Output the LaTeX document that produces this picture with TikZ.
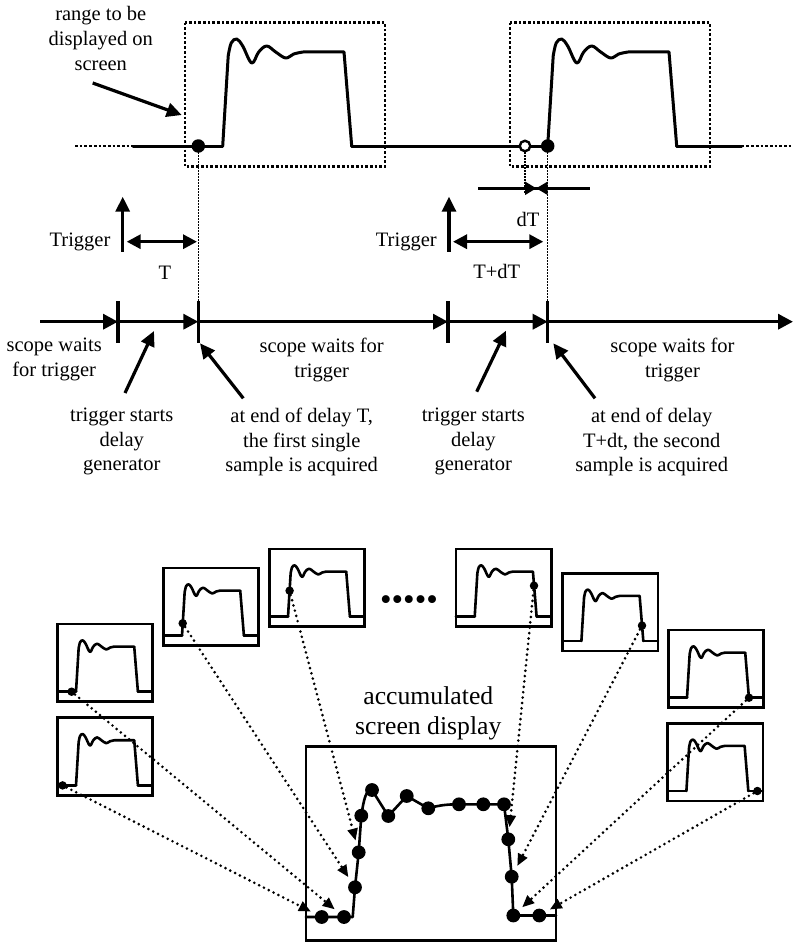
\documentclass[tikz,border=0pt]{standalone}
\usepackage{fontspec}
\setmainfont{Liberation Serif}
\usetikzlibrary{arrows.meta,calc}
\newcommand\pulsepath{(0,0) -- (5.5,-90) -- plot[smooth,tension=0.6] coordinates {(5.5,-90) (8.5,-103) (14,-107) (20,-100) (29,-83) (36,-94) (44,-100) (53,-94) (63,-88) (71,-92) (80.3,-94)} -- (121.3,-94) -- (129,0)}
\begin{document}
\begin{tikzpicture}[x=1pt,y=-1pt,
  wave/.style={line width=3pt,line join=round,line cap=round},
  swave/.style={line width=2.6pt,line join=round,line cap=round},
  sqdots/.style={line width=2.7pt,dash pattern=on 2.7pt off 2pt},
  thindots/.style={line width=1.5pt,dash pattern=on 1.5pt off 1.5pt},
  conn/.style={line width=2.9pt,line cap=round,dash pattern=on 0pt off 5.4pt,-{Triangle[length=12pt,width=10pt]},shorten >=5pt},
  lbl/.style={font=\fontsize{20.5}{24.7}\selectfont,align=center,inner sep=0pt,anchor=north},
  arr/.style={line width=3.2pt,-{Triangle[length=15pt,width=14pt]}},
  dbl/.style={line width=3.2pt,{Triangle[length=14pt,width=14pt]}-{Triangle[length=14pt,width=14pt]}},
  tl/.style={line width=3.4pt,-{Triangle[length=15pt,width=15pt]}},
  tickmark/.style={line width=3.2pt},
  scr/.style={line width=2.7pt},
  bdot/.style={circle,fill,inner sep=0pt,minimum size=13.5pt},
  hdot/.style={circle,draw,fill=white,line width=2.4pt,inner sep=0pt,minimum size=10.5pt},
  sdot/.style={circle,fill,inner sep=0pt,minimum size=8.5pt},
  adot/.style={circle,fill,inner sep=0pt,minimum size=13.8pt},
  screen/.pic={
    \draw[scr] (0,0) rectangle (95.3,77.7);
    \draw[swave] (0,67.7) -- (18.7,67.7);
    \draw[swave,shift={(18.7,67.7)},scale=0.48] \pulsepath;
    \draw[swave] (80.6,67.7) -- (95.3,67.7);
  }]
\useasboundingbox (0,0) rectangle (793,942);

% ---------- top waveform ----------
\coordinate (w0) at (75,146);
\coordinate (w1) at (133,146);
\coordinate (p1) at (222.7,146);
\coordinate (p1e) at (351.7,146);
\coordinate (p2) at (547.7,146);
\coordinate (p2e) at (676.7,146);
\coordinate (w2) at (741.7,146);
\coordinate (w3) at (793,146);

\draw[sqdots] (185,22.7) rectangle (385,166.7);
\draw[sqdots] (510,22.7) rectangle (710,166.7);

\draw[sqdots] (w0) -- (w1);
\draw[wave] (w1) -- (p1);
\draw[wave,shift={(222.7,146)}] \pulsepath;
\draw[wave] (p1e) -- (p2);
\draw[wave,shift={(547.7,146)}] \pulsepath;
\draw[wave] (p2e) -- (w2);
\draw[sqdots] (w2) -- (w3);

% ticks on time line
\coordinate (k1t) at (118,301); \coordinate (k1b) at (118,343);
\coordinate (k2t) at (198.3,301); \coordinate (k2b) at (198.3,343);
\coordinate (k3t) at (448,301); \coordinate (k3b) at (448,343);
\coordinate (k4t) at (547.7,301); \coordinate (k4b) at (547.7,343);

% dotted verticals
\coordinate (dl) at (478.3,188.3);
\coordinate (dm) at (536.3,188.3);
\coordinate (dr) at (590,188.3);
\coordinate (d0) at (525,194);
\draw[thindots] (198.3,146) -- (k2t);
\draw[thindots] (547.7,146) -- (k4t);
\draw[thindots] (525,146) -- (d0);

\node[bdot] (s1) at (198.3,146) {};
\node[hdot] (s0) at (525,146) {};
\node[bdot] (s2) at (547.7,146) {};

% dT marker
\draw[line width=3.2pt] (dl) -- (dr);
\fill (525,181.5) -- (dm) -- (525,195.1) -- cycle;
\fill (547.7,181.5) -- (dm) -- (547.7,195.1) -- cycle;
\node[lbl,anchor=base] (dT) at (528,226.7) {dT};

% label range
\node[lbl] (rng) at (100.8,6.5) {range to be\\displayed on\\screen};
\coordinate (rngA) at (92.7,83);
\coordinate (rngB) at (181.7,115);
\draw[arr] (rngA) -- (rngB);

% trigger arrows
\node[lbl,anchor=base] (trg1) at (80,246.5) {Trigger};
\node[lbl,anchor=base] (trg2) at (406.3,246.5) {Trigger};
\draw[arr] (122.7,251.7) -- (122.7,196.7);
\draw[arr] (449,251.7) -- (449,196.7);
\draw[dbl] (126.7,241.7) -- (197,241.7);
\draw[dbl] (453,241.7) -- (543.3,241.7);
\node[lbl,anchor=base] (lT) at (165,279) {T};
\node[lbl,anchor=base] (lTdT) at (496.7,278.3) {T+dT};

% time line
\coordinate (t0) at (40,321.7);
\coordinate (t1) at (118,321.7);
\coordinate (t2) at (198.3,321.7);
\coordinate (t3) at (448,321.7);
\coordinate (t4) at (547.7,321.7);
\coordinate (t5) at (793,321.7);
\draw[tl] (t0) -- (t1);
\draw[tl] (t1) -- (t2);
\draw[tl] (t2) -- (t3);
\draw[tl] (t3) -- (t4);
\draw[tl] (t4) -- (t5);
\draw[tickmark] (k1t) -- (k1b);
\draw[tickmark] (k2t) -- (k2b);
\draw[tickmark] (k3t) -- (k3b);
\draw[tickmark] (k4t) -- (k4b);

% texts under time line
\node[lbl] (sw1) at (54.2,337.7) {scope waits\\for trigger};
\node[lbl] (sw2) at (321.7,337.7) {scope waits for\\trigger};
\node[lbl] (sw3) at (672.5,337.7) {scope waits for\\trigger};
\node[lbl] (ts1) at (121.7,407.7) {trigger starts\\delay\\generator};
\node[lbl] (ae1) at (301.7,407.7) {at end of delay T,\\the first single\\sample is acquired};
\node[lbl] (ts2) at (473.3,407.7) {trigger starts\\delay\\generator};
\node[lbl] (ae2) at (651.7,407.7) {at end of delay\\T+dt, the second\\sample is acquired};

\coordinate (ts1a) at (125,393);   \coordinate (ts1b) at (154,331);
\coordinate (ae1a) at (243.3,398.3); \coordinate (ae1b) at (200,343.3);
\coordinate (ts2a) at (476.7,391.7); \coordinate (ts2b) at (506,330.7);
\coordinate (ae2a) at (595,398.3); \coordinate (ae2b) at (553.3,343.3);
\draw[arr] (ts1a) -- (ts1b);
\draw[arr] (ae1a) -- (ae1b);
\draw[arr] (ts2a) -- (ts2b);
\draw[arr] (ae2a) -- (ae2b);

% ---------- bottom part ----------
\pic at (57.3,624) {screen};
\pic at (163.3,568) {screen};
\pic at (269.3,549) {screen};
\pic at (456,549) {screen};
\pic at (562.7,573.3) {screen};
\pic at (668.3,630) {screen};
\pic at (57.3,717.7) {screen};
\pic at (667.7,723.3) {screen};

\node[sdot] (gA) at (71.6,691.7) {};
\node[sdot] (gB) at (182.7,623.3) {};
\node[sdot] (gC) at (289.6,590.7) {};
\node[sdot] (gD) at (534,585.7) {};
\node[sdot] (gE) at (642,625.6) {};
\node[sdot] (gF) at (749,697.7) {};
\node[sdot] (gG) at (62.6,785.4) {};
\node[sdot] (gH) at (757.4,791) {};

\node[font=\fontsize{33}{33}\selectfont,inner sep=0pt] (ell) at (409,603.3) {•••••};

\node[font=\fontsize{25.7}{30}\selectfont,align=center,inner sep=0pt,anchor=north] (acct) at (428.3,686.4) {accumulated\\screen display};

\draw[line width=2.8pt] (306,746.7) rectangle (556,940.6);

\coordinate (a1) at (321.7,917);
\coordinate (a2) at (344,917);
\coordinate (a3) at (355,887.3);
\coordinate (a4) at (358.7,852.3);
\coordinate (a5) at (361.3,815.7);
\coordinate (a6) at (372,790);
\coordinate (a7) at (388.3,816);
\coordinate (a8) at (406.7,796);
\coordinate (a9) at (428.3,808.3);
\coordinate (a10) at (459,804.3);
\coordinate (a11) at (483.3,804.3);
\coordinate (a12) at (504,804.3);
\coordinate (a13) at (508.3,839.3);
\coordinate (a14) at (511.7,876.7);
\coordinate (a15) at (513.3,915.5);
\coordinate (a16) at (539.3,915.5);

\draw[swave] (306,917) -- (a1) -- (a2) -- (352.7,917) -- (a3) -- (a4) -- (a5)
  .. controls (364,798) and (366,790) .. (a6) -- (a7) -- (a8) -- (a9)
  .. controls (440,805) and (448,804.3) .. (a10) -- (a11) -- (a12) -- (a13) -- (a14) -- (a15) -- (a16) -- (556,915.5);

\foreach \i in {1,...,16} {\node[adot] (A\i) at (a\i) {};}

\draw[conn] (gG) -- (A1);
\draw[conn] (gA) -- (A2);
\draw[conn] (gB) -- (A3);
\draw[conn] (gC) -- (A4);
\draw[conn] (gD) -- (A13);
\draw[conn] (gE) -- (A14);
\draw[conn] (gF) -- (A15);
\draw[conn] (gH) -- (A16);
\end{tikzpicture}
\end{document}
